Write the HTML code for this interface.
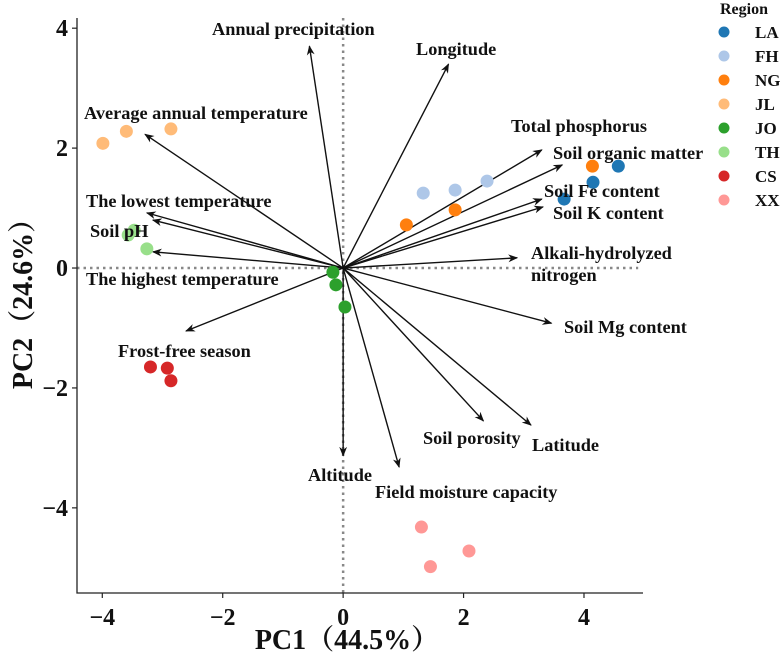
<!DOCTYPE html>
<html><head><meta charset="utf-8"><style>
body{margin:0;background:#fff;}
svg text{font-family:"Liberation Serif",serif;font-weight:bold;fill:#111;}
</style></head><body>
<svg id="chart" width="782" height="663" xmlns="http://www.w3.org/2000/svg">
<defs><marker id="ah" viewBox="0 0 10 10" refX="9" refY="5" markerWidth="7" markerHeight="7" orient="auto"><path d="M0,1 L10,5 L0,9 L3,5 z" fill="#111"/></marker></defs>
<g id="grid"></g><g id="arrows"></g><g id="points"></g><g id="labels"></g><g id="axes"></g><g id="legend"></g>
</svg>
<script>
const regions=["LA","FH","NG","JL","JO","TH","CS","XX"];
const regionColors=["#1f77b4","#aec7e8","#ff7f0e","#ffbb78","#2ca02c","#98df8a","#d62728","#ff9896"];
const pointRegion=["LA","LA","LA","FH","FH","FH","NG","NG","NG","JL","JL","JL","JO","JO","JO","TH","TH","TH","CS","CS","CS","XX","XX","XX"];
const pointPC1=[4.57,4.15,3.67,1.33,1.86,2.39,1.05,1.86,4.14,-3.99,-3.6,-2.86,-0.17,-0.12,0.03,-3.57,-3.47,-3.26,-3.2,-2.92,-2.86,1.3,2.09,1.45];
const pointPC2=[1.70,1.43,1.15,1.25,1.30,1.45,0.72,0.97,1.70,2.08,2.28,2.32,-0.07,-0.28,-0.65,0.55,0.63,0.32,-1.65,-1.67,-1.88,-4.32,-4.72,-4.98];
const varNames=["Annual precipitation","Average annual temperature","The lowest temperature","Soil pH","The highest temperature","Longitude","Total phosphorus","Soil organic matter","Soil Fe content","Soil K content","Alkali-hydrolyzed nitrogen","Soil Mg content","Frost-free season","Soil porosity","Latitude","Altitude","Field moisture capacity"];
const loadPC1=[-0.56,-3.29,-3.26,-3.16,-3.16,1.75,3.3,3.64,3.3,3.32,2.89,3.46,-2.61,2.33,3.12,0,0.93];
const loadPC2=[3.70,2.23,0.92,0.80,0.27,3.40,1.97,1.72,1.15,1.02,0.17,-0.92,-1.05,-2.55,-2.62,-3.13,-3.32];
const xTicks=[-4,-2,0,2,4];
const yTicks=[4,2,0,-2,-4];
const xMin=-4.42,xMax=4.98,yMin=-5.42,yMax=4.17;
const L=77,R=643,T=18,B=593;
const sx=v=>L+(v-xMin)/(xMax-xMin)*(R-L);
const sy=v=>B-(v-yMin)/(yMax-yMin)*(B-T);
const NS="http://www.w3.org/2000/svg";
function mk(tag,attrs,parent){const e=document.createElementNS(NS,tag);for(const k in attrs)e.setAttribute(k,attrs[k]);document.getElementById(parent).appendChild(e);return e;}
let g=mk("line",{x1:L,x2:sx(4.9),y1:sy(0),y2:sy(0),stroke:"#888","stroke-width":2.5,"stroke-dasharray":"2.5,4"},"grid");


g=mk("line",{x1:sx(0),x2:sx(0),y1:T,y2:B,stroke:"#888","stroke-width":2.5,"stroke-dasharray":"2.5,4"},"grid");


varNames.forEach((n,i)=>{
 const a=mk("line",{x1:sx(0),y1:sy(0),x2:sx(loadPC1[i]),y2:sy(loadPC2[i]),stroke:"#111","stroke-width":1.4,"marker-end":"url(#ah)"},"arrows");
 
 
});
pointRegion.forEach((r,i)=>{
 const c=mk("circle",{cx:sx(pointPC1[i]),cy:sy(pointPC2[i]),r:6.5,fill:regionColors[regions.indexOf(r)]},"points");
 
 
});
const labs=[["Annual precipitation",212,35],["Longitude",416,55],["Average annual temperature",84,119],["The lowest temperature",86,207],["Soil pH",90,237],["The highest temperature",86,285],["Total phosphorus",511,132],["Soil organic matter",553,159],["Soil Fe content",544,197],["Soil K content",553,219],["Alkali-hydrolyzed",531,259],["nitrogen",531,281],["Soil Mg content",564,333],["Frost-free season",118,357],["Soil porosity",423,444],["Latitude",532,451],["Altitude",308,481],["Field moisture capacity",375,498]];
labs.forEach(l=>{
 const t=mk("text",{x:l[1],y:l[2],"font-size":"18.3"},"labels");t.textContent=l[0];
 
 
});
let ax=mk("path",{d:`M${L},${T} L${L},${B} L${R},${B}`,fill:"none",stroke:"#222","stroke-width":1.3},"axes");


xTicks.forEach(v=>{
 const tl=mk("line",{x1:sx(v),x2:sx(v),y1:B,y2:B+5,stroke:"#222","stroke-width":1.2},"axes");
 
 
 const t=mk("text",{x:sx(v),y:B+32,"text-anchor":"middle","font-size":"24"},"axes");t.textContent=v<0?"\u2212"+(-v):v;
 
 
});
yTicks.forEach(v=>{
 const tl=mk("line",{x1:L-5,x2:L,y1:sy(v),y2:sy(v),stroke:"#222","stroke-width":1.2},"axes");
 
 
 const t=mk("text",{x:L-9,y:sy(v)+8,"text-anchor":"end","font-size":"24"},"axes");t.textContent=v<0?"\u2212"+(-v):v;
 
 
});
let xt=mk("text",{x:347,y:649,"text-anchor":"middle","font-size":"28"},"axes");xt.textContent="PC1（44.5%）";


xt.setAttribute('style','font-family:"Liberation Serif","Noto Serif CJK SC",serif');
let yt=mk("text",{x:0,y:0,"text-anchor":"middle","font-size":"28","transform":"translate(32,297) rotate(-90)"},"axes");yt.textContent="PC2（24.6%）";


yt.setAttribute('style','font-family:"Liberation Serif","Noto Serif CJK SC",serif');
let lt=mk("text",{x:720,y:14,"font-size":"16"},"legend");lt.textContent="Region";


regions.forEach((r,i)=>{
 const y=32+i*24;
 const c=mk("circle",{cx:724,cy:y,r:5.5,fill:regionColors[i]},"legend");
 
 
 const t=mk("text",{x:755,y:y+6,"font-size":"17"},"legend");t.textContent=r;
 
 
});
</script>
</body></html>
